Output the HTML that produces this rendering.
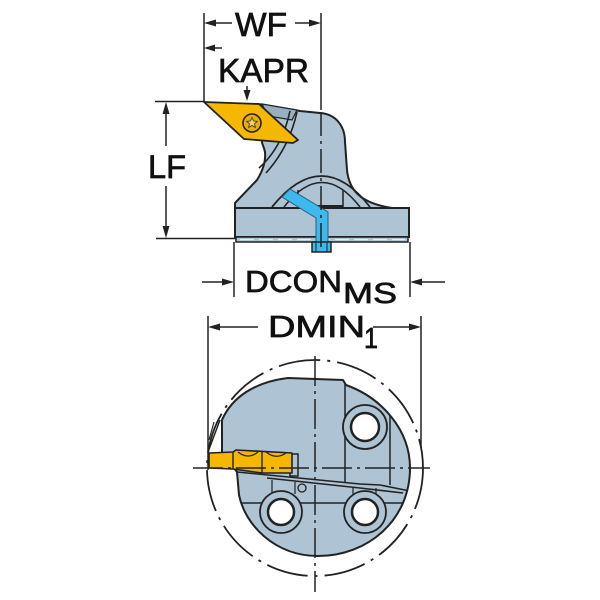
<!DOCTYPE html>
<html><head><meta charset="utf-8"><style>
html,body{margin:0;padding:0;background:#fff;}
svg{display:block;}
text{font-family:"Liberation Sans",Arial,sans-serif;fill:#111;stroke:#111;stroke-width:0.7;}
</style></head><body>
<svg width="600" height="600" viewBox="0 0 600 600" xmlns="http://www.w3.org/2000/svg">
<rect width="600" height="600" fill="#fff"/>
<defs>
<clipPath id="bclip"><path d="M222,452 L222,420 C232,397 255,382 288,378 L343,380 L346,385 C382,398 410,430 410,468 C410,520 368,556 318,556 C275,556 245,525 239,495 L237,472 Z"/></clipPath>
</defs>

<!-- ===== TOP VIEW ===== -->
<rect x="235" y="208" width="174" height="29" fill="#aec4d4" stroke="#222" stroke-width="2"/>
<rect x="236" y="237" width="172" height="5" fill="#aec4d4" stroke="#222" stroke-width="1.5"/>
<line x1="240" y1="239.5" x2="405" y2="239.5" stroke="#e8eef2" stroke-width="1.2" stroke-dasharray="14 5"/>
<path d="M235,208 L235,203 L257,180 C262,172 266,162 265,152 C264,147 262,144 262,142 L258,104 L300,111 L320,113 C335,114 345,125 345,142 L347,170 C349,190 360,203 392,208 Z" fill="#aec4d4" stroke="#222" stroke-width="2" stroke-linejoin="round"/>
<path d="M262,104 L297,110 L292,120 L268,116 Z" fill="#97afc1" stroke="#222" stroke-width="1.2"/>
<path d="M290,111 C286,130 277,152 259,168" fill="none" stroke="#222" stroke-width="1.6"/>
<path d="M297,112 C293,130 285,152 266,173" fill="none" stroke="#222" stroke-width="1.6"/>
<path d="M272,207 Q322,145 370,207" fill="none" stroke="#222" stroke-width="1.8"/>
<path d="M284,207 Q322,158 360,207" fill="none" stroke="#222" stroke-width="1.5"/>
<line x1="298" y1="190" x2="298" y2="207" stroke="#222" stroke-width="1.5"/>
<line x1="343" y1="190" x2="343" y2="207" stroke="#222" stroke-width="1.5"/>
<line x1="298" y1="206" x2="343" y2="206" stroke="#222" stroke-width="2"/>
<path d="M282,197 L290,189 L328,212 L328,242 L316,242 L316,218 Z" fill="#3db9ee" stroke="#2a5f7a" stroke-width="1"/>
<rect x="312" y="242" width="19" height="10" fill="#3db9ee" stroke="#222" stroke-width="1.5"/>
<line x1="316" y1="242" x2="316" y2="252" stroke="#222" stroke-width="1"/>
<line x1="327" y1="242" x2="327" y2="252" stroke="#222" stroke-width="1"/>
<path d="M204,102 L259,104 L298,140 L293,143 L244,139 Z" fill="#f5b700" stroke="#222" stroke-width="1.8" stroke-linejoin="round"/>
<circle cx="252" cy="123" r="9" fill="#e9ad00" stroke="#222" stroke-width="1.6"/>
<path d="M252,117.5 L253.6,121 L257.3,121.3 L254.5,123.8 L255.4,127.5 L252,125.5 L248.6,127.5 L249.5,123.8 L246.7,121.3 L250.4,121 Z" fill="#f7d36a" stroke="#333" stroke-width="0.8"/>
<line x1="321" y1="13" x2="321" y2="110" stroke="#222" stroke-width="1.5"/>
<line x1="321" y1="112" x2="321" y2="250" stroke="#222" stroke-width="1.5" stroke-dasharray="24 5 3 5"/>

<!-- WF -->
<line x1="204" y1="13" x2="204" y2="101" stroke="#222" stroke-width="1.5"/>
<line x1="216" y1="23" x2="232" y2="23" stroke="#222" stroke-width="1.5"/>
<polygon points="204,23 216,19.5 216,26.5" fill="#222"/>
<line x1="295" y1="23" x2="309" y2="23" stroke="#222" stroke-width="1.5"/>
<polygon points="321,23 309,19.5 309,26.5" fill="#222"/>
<text x="235" y="36" font-size="33" textLength="52" lengthAdjust="spacingAndGlyphs">WF</text>
<!-- KAPR -->
<line x1="215" y1="48" x2="222" y2="48" stroke="#222" stroke-width="1.5"/>
<polygon points="204,48 215,44.5 215,51.5" fill="#222"/>
<text x="218" y="82" font-size="33" textLength="91" lengthAdjust="spacingAndGlyphs">KAPR</text>
<polygon points="247,101 243.5,90 250.5,90" fill="#222"/>
<line x1="247" y1="86" x2="247" y2="90" stroke="#222" stroke-width="1.5"/>
<!-- LF -->
<line x1="155" y1="101.5" x2="205" y2="101.5" stroke="#222" stroke-width="1.5"/>
<line x1="156" y1="238.5" x2="236" y2="238.5" stroke="#222" stroke-width="1.5"/>
<line x1="166" y1="114" x2="166" y2="146" stroke="#222" stroke-width="1.5"/>
<polygon points="166,102 162.5,114 169.5,114" fill="#222"/>
<line x1="166" y1="186" x2="166" y2="226" stroke="#222" stroke-width="1.5"/>
<polygon points="166,238 162.5,226 169.5,226" fill="#222"/>
<text x="148" y="178" font-size="32" textLength="38" lengthAdjust="spacingAndGlyphs">LF</text>
<!-- DCON -->
<line x1="234" y1="242" x2="234" y2="297" stroke="#222" stroke-width="1.5"/>
<line x1="410" y1="242" x2="410" y2="297" stroke="#222" stroke-width="1.5"/>
<line x1="202" y1="282" x2="222" y2="282" stroke="#222" stroke-width="1.5"/>
<polygon points="234,282 222,278.5 222,285.5" fill="#222"/>
<line x1="422" y1="282" x2="445" y2="282" stroke="#222" stroke-width="1.5"/>
<polygon points="410,282 422,278.5 422,285.5" fill="#222"/>
<text x="245" y="292" font-size="31" textLength="97" lengthAdjust="spacingAndGlyphs">DCON</text>
<text x="343" y="303" font-size="29" textLength="54" lengthAdjust="spacingAndGlyphs">MS</text>
<!-- DMIN -->
<line x1="208" y1="316" x2="208" y2="470" stroke="#222" stroke-width="1.5"/>
<line x1="421" y1="316" x2="421" y2="448" stroke="#222" stroke-width="1.5"/>
<line x1="220" y1="327" x2="258" y2="327" stroke="#222" stroke-width="1.5"/>
<polygon points="208,327 220,323.5 220,330.5" fill="#222"/>
<line x1="373" y1="327" x2="409" y2="327" stroke="#222" stroke-width="1.5"/>
<polygon points="421,327 409,323.5 409,330.5" fill="#222"/>
<text x="268" y="337" font-size="31" textLength="97" lengthAdjust="spacingAndGlyphs">DMIN</text>
<text x="364" y="348" font-size="29" textLength="14" lengthAdjust="spacingAndGlyphs">1</text>

<!-- ===== BOTTOM VIEW ===== -->
<circle cx="315" cy="468" r="108" fill="none" stroke="#222" stroke-width="1.8" stroke-dasharray="42 7 3 7"/>
<path d="M222,452 L222,420 C232,397 255,382 288,378 L343,380 L346,385 C382,398 410,430 410,468 C410,520 368,556 318,556 C275,556 245,525 239,495 L237,472 Z" fill="#aec4d4" stroke="#222" stroke-width="2" stroke-linejoin="round"/>
<g clip-path="url(#bclip)" stroke="#222" fill="none">
<line x1="345" y1="383" x2="345" y2="482" stroke-width="1.5"/>
<line x1="390" y1="410" x2="390" y2="485" stroke-width="1.5"/>
<path d="M237,472 L360,484 L380,485 L410,491" stroke-width="1.5"/>
<path d="M267,478 L360,488 L403,493" stroke-width="1.5"/>
<line x1="240" y1="503" x2="410" y2="503" stroke-width="1.5"/>
<line x1="272" y1="480" x2="272" y2="494" stroke-width="1.2"/>
<line x1="295" y1="482" x2="295" y2="494" stroke-width="1.2"/>
<line x1="353" y1="488" x2="353" y2="494" stroke-width="1.2"/>
<line x1="376" y1="488" x2="376" y2="494" stroke-width="1.2"/>
</g>
<circle cx="302" cy="488" r="4" fill="#aec4d4" stroke="#222" stroke-width="1.3"/>
<circle cx="365" cy="427" r="22" fill="#aec4d4" stroke="#222" stroke-width="1.8"/>
<circle cx="365" cy="427" r="14" fill="#fff" stroke="#222" stroke-width="2.5"/>
<circle cx="281" cy="512" r="21" fill="#aec4d4" stroke="#222" stroke-width="1.8"/>
<circle cx="281" cy="512" r="13" fill="#fff" stroke="#222" stroke-width="2.5"/>
<circle cx="365" cy="512" r="21" fill="#aec4d4" stroke="#222" stroke-width="1.8"/>
<circle cx="365" cy="512" r="13" fill="#fff" stroke="#222" stroke-width="2.5"/>
<line x1="220" y1="420" x2="208" y2="452" stroke="#222" stroke-width="1.5"/>
<line x1="214" y1="422" x2="209" y2="440" stroke="#222" stroke-width="1.2"/>
<rect x="290" y="454" width="8" height="22" fill="#aec4d4" stroke="#222" stroke-width="1.5"/>
<path d="M209,453 L233,452 L236,450 L292,453 L292,473 L262,473 L233,469 L209,468 Z" fill="#f5b700" stroke="#222" stroke-width="1.6" stroke-linejoin="round"/>
<line x1="233" y1="452" x2="233" y2="469" stroke="#222" stroke-width="1.4"/>
<line x1="262" y1="451" x2="262" y2="473" stroke="#222" stroke-width="1.4"/>
<path d="M238,452 Q248,460 258,452" fill="none" stroke="#222" stroke-width="1.2"/>
<path d="M266,452 Q276,460 286,453" fill="none" stroke="#222" stroke-width="1.2"/>
<line x1="315" y1="356" x2="315" y2="592" stroke="#222" stroke-width="1.5" stroke-dasharray="30 5 3 5"/>
<line x1="193" y1="468" x2="430" y2="468" stroke="#222" stroke-width="1.5" stroke-dasharray="30 5 3 5"/>
</svg>
</body></html>
